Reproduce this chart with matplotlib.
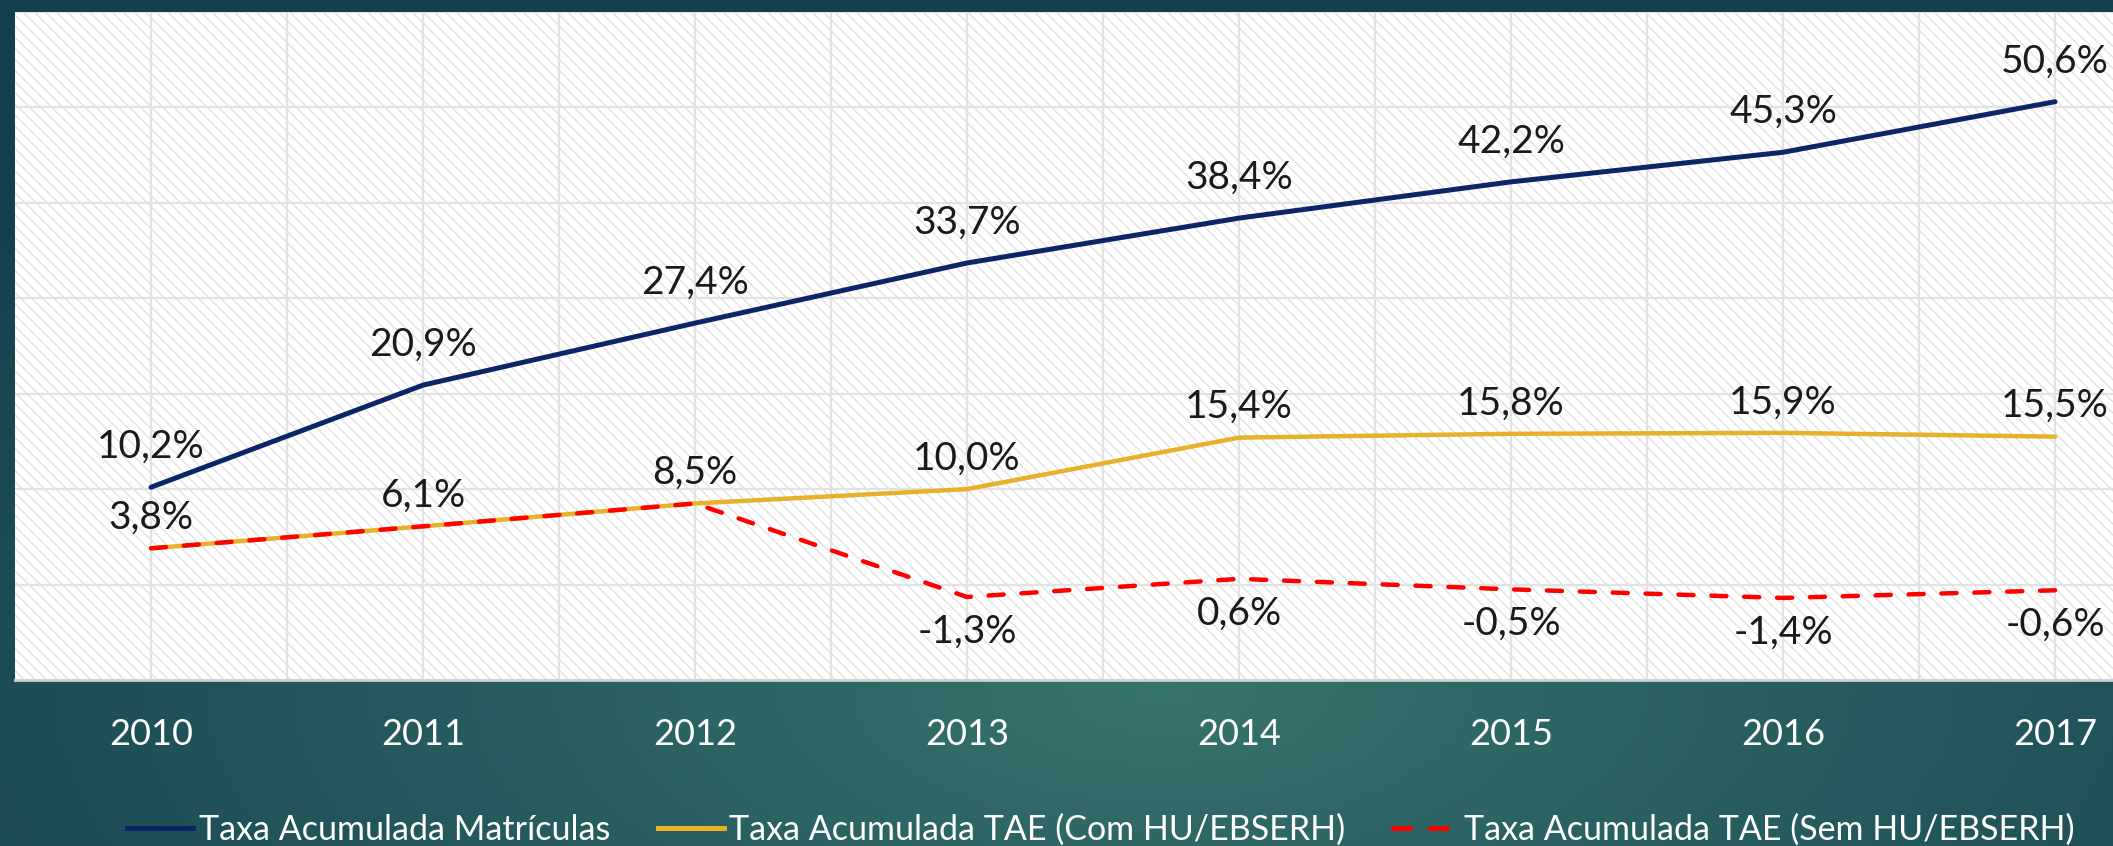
import numpy as np
import matplotlib

matplotlib.use("Agg")
import matplotlib.pyplot as plt
from matplotlib.patches import Rectangle
from matplotlib.lines import Line2D

plt.rcParams["font.family"] = ["Lato", "DejaVu Sans"]
plt.rcParams["hatch.linewidth"] = 0.9

# ------------------------------------------------------------------ data
years = ["2010", "2011", "2012", "2013", "2014", "2015", "2016", "2017"]
matriculas = [10.2, 20.9, 27.4, 33.7, 38.4, 42.2, 45.3, 50.6]
tae_com_hu = [3.8, 6.1, 8.5, 10.0, 15.4, 15.8, 15.9, 15.5]
tae_sem_hu = [3.8, 6.1, 8.5, -1.3, 0.6, -0.5, -1.4, -0.6]

NAVY = "#0b2566"
GOLD = "#e8b12a"
RED = "#ff0000"
INK = "#1a1a1a"
GRID = "#e2e2e2"

W, H = 2113, 846
fig = plt.figure(figsize=(W / 100, H / 100), dpi=100)

# ------------------------------------------------------------ background
bg = fig.add_axes([0, 0, 1, 1], zorder=-10)
yy, xx = np.mgrid[0:1:200j, 0:1:500j]
r = np.sqrt(((xx - 0.55) * 1.2) ** 2 + ((yy - 0.82) * 1.1) ** 2)
r = np.clip(r / 0.9, 0, 1) ** 0.9
inner = np.array([56, 116, 110]) / 255
outer = np.array([20, 64, 78]) / 255
img = inner[None, None, :] * (1 - r[..., None]) + outer[None, None, :] * r[..., None]
bg.imshow(img, extent=[0, 1, 0, 1], aspect="auto", origin="upper")
bg.axis("off")

# ------------------------------------------------------------ plot area
ax = fig.add_axes([15 / W, 166 / H, 2176 / W, 668 / H])
ax.set_xlim(-0.5, 7.5)
ax.set_ylim(-10, 60)
ax.set_facecolor("white")
ax.add_patch(Rectangle((0, 0), 1, 1, transform=ax.transAxes, facecolor="white",
                       hatch="\\\\\\", edgecolor="#e0e0e0", lw=0, zorder=0))

x = np.arange(len(years))
ax.set_xticks(x)
ax.set_xticks(x[:-1] + 0.5, minor=True)
ax.set_xticklabels(years, color="white", fontsize=26)
ax.set_yticks(np.arange(-10, 61, 10))
ax.set_yticklabels([])
ax.tick_params(axis="both", which="both", length=0, pad=27)
ax.grid(True, which="both", color=GRID, lw=1.6, zorder=1)
ax.set_axisbelow(True)
for s in ["top", "left", "right"]:
    ax.spines[s].set_visible(False)
ax.spines["bottom"].set_color("#d0d0d0")
ax.spines["bottom"].set_linewidth(2)

ax.plot(x, matriculas, color=NAVY, lw=3.6, solid_capstyle="round", zorder=4)
ax.plot(x, tae_com_hu, color=GOLD, lw=3.2, solid_capstyle="round", zorder=3)
ax.plot(x, tae_sem_hu, color=RED, lw=3.2, dashes=(3.4, 4.0),
        dash_capstyle="round", zorder=5)

lab = dict(ha="center", va="center", fontsize=28, color=INK, zorder=6)
fmt = lambda v: f"{v:.1f}%".replace(".", ",")
for i, v in enumerate(matriculas):
    ax.annotate(fmt(v), (i, v), xytext=(0, 29), textcoords="offset points", **lab)
for i, v in enumerate(tae_com_hu):
    ax.annotate(fmt(v), (i, v), xytext=(0, 22), textcoords="offset points", **lab)
for i, v in enumerate(tae_sem_hu[3:], start=3):
    ax.annotate(fmt(v), (i, v), xytext=(0, -25), textcoords="offset points", **lab)

# ---------------------------------------------------------------- legend
handles = [
    Line2D([], [], color=NAVY, lw=3.6),
    Line2D([], [], color=GOLD, lw=3.6),
    Line2D([], [], color=RED, lw=3.6, dashes=(3.4, 4.0), dash_capstyle="round"),
]
labels = ["Taxa Acumulada Matrículas", "Taxa Acumulada TAE (Com HU/EBSERH)",
          "Taxa Acumulada TAE (Sem HU/EBSERH)"]
fig.legend(handles, labels, loc="center", bbox_to_anchor=(0.521, 16 / H), ncol=3,
           frameon=False, fontsize=24.5, labelcolor="white", handlelength=1.95,
           handletextpad=0.15, columnspacing=1.4, borderpad=0)

fig.savefig("out.png", dpi=100)
